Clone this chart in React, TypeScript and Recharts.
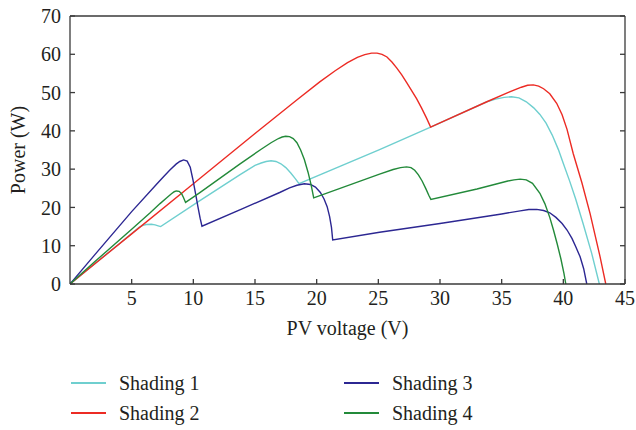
import { LineChart, Line, XAxis, YAxis } from 'recharts'

type Pt = { v: number; p: number }

const xTicks = [5, 10, 15, 20, 25, 30, 35, 40, 45]
const yTicks = [0, 10, 20, 30, 40, 50, 60, 70]

// voltage / power pairs
const shading1V = [0, 2, 4, 5.6, 5.9, 6.2, 6.6, 6.9, 7.15, 7.35, 10.5, 13.76, 15.0, 15.5, 15.9, 16.3, 16.7, 17.1, 17.5, 17.9, 18.25, 18.57, 25.1, 29.24, 33.8, 34.5, 35.2, 35.8, 36.4, 37.0, 37.6, 38.1, 38.6, 39.1, 39.6, 40.0, 40.5, 41.0, 41.6, 42.3, 42.92]
const shading1P = [0, 5.3, 10.5, 14.8, 15.3, 15.55, 15.6, 15.45, 15.2, 15.0, 21.7, 28.5, 31.0, 31.6, 32.0, 32.2, 32.0, 31.4, 30.4, 29.0, 27.6, 26.2, 35.1, 41.0, 47.6, 48.3, 48.75, 48.9, 48.6, 47.6, 46.0, 44.3, 42.0, 38.9, 35.1, 31.5, 27.0, 22.2, 15.8, 8.0, 0]

const shading2V = [0, 5, 10, 15, 18.36, 20.25, 21.5, 22.5, 23.3, 23.9, 24.45, 24.9, 25.3, 25.7, 26.1, 26.5, 26.9, 27.3, 27.7, 28.1, 28.5, 28.9, 29.24, 33.8, 35.5, 36.6, 37.1, 37.57, 38.0, 38.4, 38.9, 39.46, 39.9, 40.3, 40.8, 41.5, 42.17, 42.98, 43.44]
const shading2P = [0, 13.1, 26.2, 39.3, 48.0, 52.8, 55.7, 57.8, 59.2, 59.9, 60.3, 60.3, 60.0, 59.3, 58.0, 56.4, 54.6, 52.6, 50.5, 48.4, 46.0, 43.4, 41.0, 47.6, 50.0, 51.4, 51.9, 52.0, 51.7, 51.0, 49.7, 47.2, 44.2, 40.4, 34.1, 26.5, 18.4, 7.1, 0]

const shading3V = [0, 2, 5, 7, 7.6, 8.1, 8.6, 8.9, 9.21, 9.5, 9.75, 9.97, 10.2, 10.37, 10.55, 10.7, 14, 17, 17.8, 18.4, 19.0, 19.5, 19.9, 20.3, 20.6, 20.85, 21.05, 21.2, 21.3, 25.1, 30, 35, 36.5, 37.2, 37.84, 38.4, 38.9, 39.4, 39.9, 40.3, 40.7, 41.0, 41.36, 41.65, 41.9]
const shading3P = [0, 7.6, 18.9, 26.0, 28.1, 29.8, 31.3, 32.0, 32.4, 32.1, 30.5, 27.2, 23.3, 20.2, 17.2, 15.1, 19.7, 23.9, 25.1, 25.8, 26.2, 26.0, 25.3, 23.9, 22.2, 20.2, 17.6, 14.8, 11.5, 13.5, 15.8, 18.3, 19.1, 19.45, 19.5, 19.2, 18.6, 17.4, 15.8, 14.1, 11.9, 9.8, 7.1, 4.0, 0]

const shading4V = [0, 2, 5, 6.5, 7.3, 7.8, 8.2, 8.45, 8.62, 8.85, 9.05, 9.2, 9.37, 10.5, 13.76, 15.5, 16.3, 16.9, 17.2, 17.49, 17.8, 18.1, 18.4, 18.7, 19.0, 19.3, 19.55, 19.76, 25.1, 26.2, 26.8, 27.29, 27.65, 27.95, 28.25, 28.55, 28.85, 29.1, 29.26, 33, 35.5, 36.0, 36.5, 37.0, 37.5, 38.1, 38.5, 38.9, 39.2, 39.5, 39.8, 40.05, 40.2]
const shading4P = [0, 5.8, 14.3, 18.6, 21.0, 22.4, 23.5, 24.1, 24.3, 24.2, 23.6, 22.6, 21.3, 23.8, 31.3, 35.2, 36.9, 38.0, 38.4, 38.6, 38.5, 38.0, 36.9, 35.0, 32.5, 29.2, 25.9, 22.5, 28.7, 29.9, 30.4, 30.6, 30.4, 29.7, 28.5, 26.9, 24.9, 23.1, 22.1, 24.8, 26.9, 27.2, 27.4, 27.2, 26.3, 23.7, 21.0, 17.4, 14.1, 10.5, 6.6, 2.8, 0]

const toPts = (vs: number[], ps: number[]): Pt[] => vs.map((v, i) => ({ v, p: ps[i] }))

const series = [
  { name: 'Shading 1', color: '#6fcfcf', data: toPts(shading1V, shading1P) },
  { name: 'Shading 2', color: '#ec2b24', data: toPts(shading2V, shading2P) },
  { name: 'Shading 3', color: '#2c2792', data: toPts(shading3V, shading3P) },
  { name: 'Shading 4', color: '#238a3a', data: toPts(shading4V, shading4P) },
]

const font = '"Liberation Serif", "DejaVu Serif", serif'
const ink = '#231f20'
const axisColor = '#3a3a3a'
const TICK_LEN = 5
const BOTTOM_GAP = 7
const LEFT_GAP = 9

// ticks point inward, so the tick line is drawn by hand next to the label
const BottomTick = ({ x, y, payload }: any) => (
  <g>
    <line x1={x} x2={x} y1={y - BOTTOM_GAP} y2={y - BOTTOM_GAP - TICK_LEN} stroke={axisColor} strokeWidth={1.3} />
    <text x={x} y={y} dy="0.71em" textAnchor="middle" fill={ink} fontSize={20} fontFamily={font}>
      {payload.value}
    </text>
  </g>
)

const LeftTick = ({ x, y, payload }: any) => (
  <g>
    <line x1={x + LEFT_GAP} x2={x + LEFT_GAP + TICK_LEN} y1={y} y2={y} stroke={axisColor} strokeWidth={1.3} />
    <text x={x} y={y} dy="0.355em" textAnchor="end" fill={ink} fontSize={20} fontFamily={font}>
      {payload.value}
    </text>
  </g>
)

const TopTick = ({ x, y }: any) => (
  <line x1={x} x2={x} y1={y} y2={y + TICK_LEN} stroke={axisColor} strokeWidth={1.3} />
)

const RightTick = ({ x, y }: any) => (
  <line x1={x} x2={x - TICK_LEN} y1={y} y2={y} stroke={axisColor} strokeWidth={1.3} />
)

const legendSlots = [
  { left: 71, top: 383 },
  { left: 71, top: 413 },
  { left: 344, top: 383 },
  { left: 344, top: 413 },
]

export default function App() {
  return (
    <div style={{ position: 'absolute', left: 0, top: 0, width: 636, height: 430, background: '#fff' }}>
      <LineChart width={636} height={430} margin={{ top: 15, right: 10, left: 0, bottom: 76 }}>
        <XAxis
          type="number"
          dataKey="v"
          domain={[0, 45]}
          ticks={xTicks}
          allowDataOverflow
          height={70}
          tickSize={0}
          tickMargin={BOTTOM_GAP}
          tick={(props: any) => <BottomTick {...props} />}
          tickLine={false}
          axisLine={{ stroke: axisColor, strokeWidth: 1.3 }}
          label={{ value: 'PV voltage (V)', position: 'insideBottom', offset: 19, fill: ink, fontSize: 20, fontFamily: font }}
        />
        <XAxis
          xAxisId="top"
          orientation="top"
          type="number"
          domain={[0, 45]}
          ticks={xTicks}
          allowDataOverflow
          height={1}
          tickSize={0}
          tickMargin={0}
          tick={(props: any) => <TopTick {...props} />}
          tickLine={false}
          axisLine={{ stroke: axisColor, strokeWidth: 1.3 }}
        />
        <YAxis
          type="number"
          domain={[0, 70]}
          ticks={yTicks}
          allowDataOverflow
          width={70}
          tickSize={0}
          tickMargin={LEFT_GAP}
          tick={(props: any) => <LeftTick {...props} />}
          tickLine={false}
          axisLine={{ stroke: axisColor, strokeWidth: 1.3 }}
          label={{ value: 'Power (W)', angle: -90, position: 'insideLeft', offset: 18, fill: ink, fontSize: 20, fontFamily: font, style: { textAnchor: 'middle' } }}
        />
        <YAxis
          yAxisId="right"
          orientation="right"
          type="number"
          domain={[0, 70]}
          ticks={yTicks}
          allowDataOverflow
          width={1}
          tickSize={0}
          tickMargin={0}
          tick={(props: any) => <RightTick {...props} />}
          tickLine={false}
          axisLine={{ stroke: axisColor, strokeWidth: 1.3 }}
        />
        {series.map((s) => (
          <Line
            key={s.name}
            data={s.data}
            dataKey="p"
            name={s.name}
            type="linear"
            stroke={s.color}
            strokeWidth={1.4}
            dot={false}
            activeDot={false}
            isAnimationActive={false}
          />
        ))}
      </LineChart>
      {series.map((s, i) => (
        <div
          key={s.name}
          style={{
            position: 'absolute',
            left: legendSlots[i].left,
            top: legendSlots[i].top - 13,
            height: 26,
            display: 'flex',
            alignItems: 'center',
            fontFamily: font,
            fontSize: 20,
            color: ink,
            whiteSpace: 'nowrap',
          }}
        >
          <span style={{ display: 'inline-block', width: 35, height: 2, background: s.color, marginRight: 13 }} />
          {s.name}
        </div>
      ))}
    </div>
  )
}
